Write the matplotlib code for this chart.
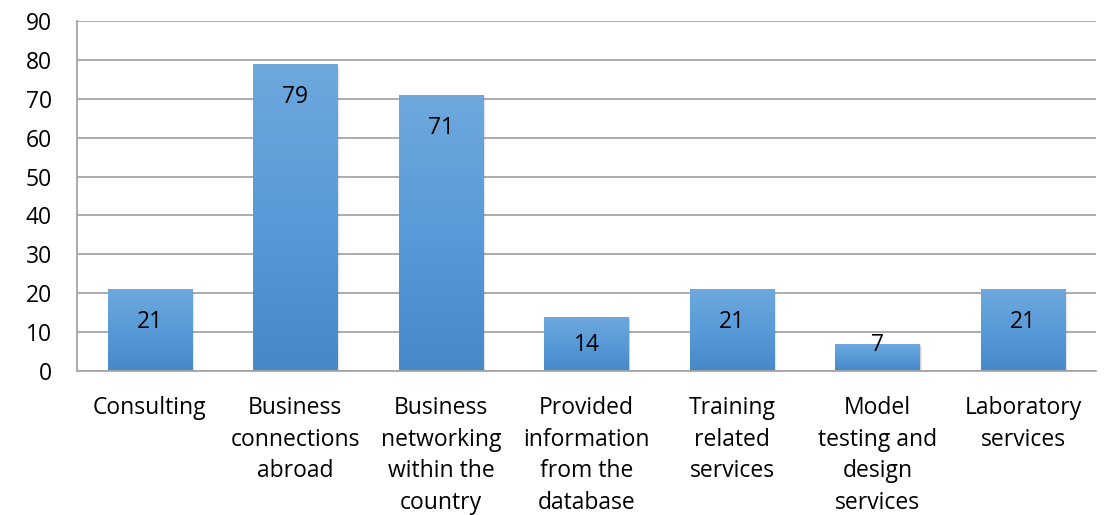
import matplotlib
matplotlib.use("Agg")
import matplotlib.pyplot as plt
import numpy as np
from matplotlib.colors import LinearSegmentedColormap
from matplotlib.patches import Rectangle

categories = ["Consulting", "Business\nconnections\nabroad", "Business\nnetworking\nwithin the\ncountry",
              "Provided\ninformation\nfrom the\ndatabase", "Training\nrelated\nservices",
              "Model\ntesting and\ndesign\nservices", "Laboratory\nservices"]
values = [21, 79, 71, 14, 21, 7, 21]
yticks = [0, 10, 20, 30, 40, 50, 60, 70, 80, 90]

plt.rcParams['font.family'] = ['Open Sans', 'DejaVu Sans']
FS = 16.5

fig = plt.figure(figsize=(11.12, 5.15), dpi=100)
ax = fig.add_axes([77/1112, 1-371/515, (1096-77)/1112, 350/515])

x = np.arange(len(categories))
width = 0.58
bars = ax.bar(x, values, width=width, color='none', zorder=3)

cmap = LinearSegmentedColormap.from_list("g", ["#4788c8", "#589bd8", "#6ea8dd"])
grad = np.linspace(0, 1, 256).reshape(-1, 1)
for b in bars:
    x0, w, h = b.get_x(), b.get_width(), b.get_height()
    for k, a in enumerate([0.10, 0.06, 0.03]):
        sh = Rectangle((x0 + 0.006*(k+1), -0.3*(k+1)), w, h, facecolor='black', alpha=a,
                       edgecolor='none', zorder=2)
        ax.add_patch(sh)
    im = ax.imshow(grad, cmap=cmap, origin='lower', aspect='auto',
                   extent=(x0, x0 + w, 0, h), zorder=3)
    clip = Rectangle((x0, 0), w, h, transform=ax.transData, facecolor='none', edgecolor='none')
    ax.add_patch(clip)
    im.set_clip_path(clip)

for xi, v in zip(x, values):
    ly = max(v - 8.5, 6.8)
    ax.text(xi, ly, str(v), ha='center', va='center', fontsize=FS, color='black', zorder=5)

ax.set_xlim(-0.5, len(categories) - 0.5)
ax.set_ylim(0, 90)
ax.set_yticks(yticks)
ax.set_yticklabels([str(t) for t in yticks], fontsize=FS)
ax.set_xticks(x)
ax.set_xticklabels(categories, fontsize=FS, linespacing=1.42, va='top')
ax.tick_params(axis='both', length=0)
ax.tick_params(axis='y', pad=18)
ax.tick_params(axis='x', pad=18)

ax.yaxis.grid(True, color='#a6a6a6', linewidth=1.3, zorder=0)
ax.set_axisbelow(True)
for s in ['top', 'right']:
    ax.spines[s].set_visible(False)
ax.spines['left'].set_color('#a6a6a6')
ax.spines['left'].set_linewidth(1.3)
ax.spines['bottom'].set_color('#a6a6a6')
ax.spines['bottom'].set_linewidth(1.3)
ax.spines['bottom'].set_zorder(4)

fig.savefig("out.png", dpi=100)
